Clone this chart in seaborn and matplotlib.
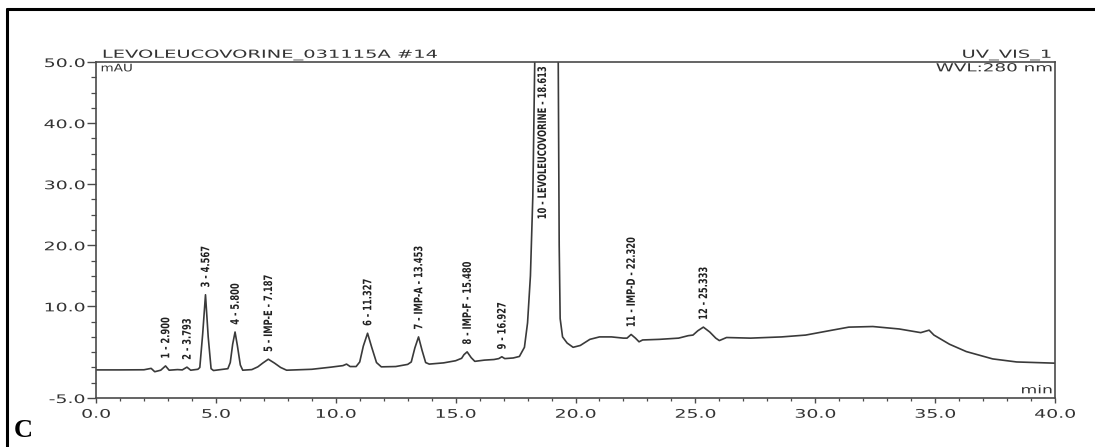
import numpy as np
import pandas as pd
import matplotlib
matplotlib.use("Agg")
import matplotlib.pyplot as plt
import seaborn as sns
from matplotlib.lines import Line2D
from matplotlib.patheffects import AbstractPathEffect
from matplotlib.transforms import Affine2D

# Detector trace (retention time in min, absorbance in mAU)
time_min = [
    0.00, 1.00, 2.00, 2.30, 2.45, 2.70, 2.900, 3.05, 3.40, 3.60, 3.793, 3.95,
    4.25, 4.33, 4.45, 4.567, 4.68, 4.80, 4.90, 5.20, 5.50, 5.60, 5.70, 5.800,
    5.90, 6.02, 6.12, 6.50, 6.75, 6.95, 7.187, 7.45, 7.70, 7.95, 9.00, 9.80,
    10.30, 10.45, 10.60, 10.85, 11.00, 11.15, 11.327, 11.50, 11.70, 11.90,
    12.50, 13.00, 13.15, 13.30, 13.453, 13.60, 13.75, 13.90, 14.50, 15.00,
    15.25, 15.35, 15.480, 15.65, 15.80, 16.20, 16.60, 16.80, 16.927, 17.05,
    17.40, 17.66, 17.87, 18.00, 18.12, 18.22, 18.30, 18.40, 18.613, 19.10,
    19.28, 19.32, 19.36, 19.46, 19.65, 19.90, 20.20, 20.60, 21.00, 21.50,
    22.00, 22.15, 22.320, 22.50, 22.65, 22.80, 23.50, 24.30, 24.70, 24.90,
    25.10, 25.333, 25.60, 25.85, 26.00, 26.30, 27.30, 28.60, 29.60, 30.70,
    31.40, 32.40, 33.50, 34.40, 34.75, 34.95, 35.60, 36.30, 37.40, 38.40,
    40.00,
]
signal_mau = [
    -0.40, -0.40, -0.38, -0.15, -0.70, -0.45, 0.25, -0.45, -0.35, -0.40, 0.05, -0.45,
    -0.30, 0.00, 5.50, 11.90, 5.00, -0.20, -0.50, -0.35, -0.20, 0.80, 3.80, 5.80,
    3.50, 0.40, -0.45, -0.35, 0.10, 0.70, 1.35, 0.70, 0.00, -0.45, -0.30, 0.05,
    0.30, 0.55, 0.15, 0.15, 0.90, 3.50, 5.60, 3.30, 0.80, 0.10,
    0.15, 0.50, 0.90, 3.20, 5.00, 2.80, 0.80, 0.55, 0.75, 1.10,
    1.50, 2.10, 2.55, 1.60, 1.00, 1.20, 1.30, 1.45, 1.75, 1.45,
    1.55, 1.80, 3.30, 7.30, 15.00, 28.00, 50.00, 120.00, 180.00, 120.00,
    50.00, 20.00, 8.00, 5.00, 4.00, 3.30, 3.60, 4.60, 5.00, 5.00,
    4.80, 4.80, 5.40, 4.80, 4.20, 4.50, 4.60, 4.80, 5.20, 5.30,
    6.00, 6.60, 5.80, 4.80, 4.40, 4.90, 4.80, 5.00, 5.30, 6.10,
    6.60, 6.70, 6.30, 5.70, 6.10, 5.30, 3.80, 2.60, 1.40, 0.90,
    0.70,
]

# Integrated peaks
peak_numbers = [1, 2, 3, 4, 5, 6, 7, 8, 9, 10, 11, 12]
peak_names = ["", "", "", "", "IMP-E", "", "IMP-A", "IMP-F", "", "LEVOLEUCOVORINE", "IMP-D", ""]
peak_times = [2.900, 3.793, 4.567, 5.800, 7.187, 11.327, 13.453, 15.480, 16.927, 18.613, 22.320, 25.333]

x_major_ticks = [0, 5, 10, 15, 20, 25, 30, 35, 40]
y_major_ticks = [-5, 10, 20, 30, 40, 50]

sample_title = "LEVOLEUCOVORINE_031115A #14"
channel_name = "UV_VIS_1"
wavelength_text = "WVL:280 nm"


class WideGlyphs(AbstractPathEffect):
    """Draw text glyphs widened along the screen x axis around one edge."""

    def __init__(self, sx, anchor="left"):
        super().__init__()
        self.sx = sx
        self.anchor = anchor

    def draw_path(self, renderer, gc, tpath, affine, rgbFace=None):
        ext = tpath.get_extents(affine)
        if self.anchor == "left":
            x0 = ext.x0
        elif self.anchor == "right":
            x0 = ext.x1
        else:
            x0 = 0.5 * (ext.x0 + ext.x1)
        widen = Affine2D().translate(-x0, 0).scale(self.sx, 1.0).translate(x0, 0)
        renderer.draw_path(gc, tpath, affine + widen, rgbFace)


sns.set_style("ticks")
plt.rcParams["font.family"] = ["DejaVu Sans"]

W, H = 1095, 447
fig = plt.figure(figsize=(W / 100, H / 100), dpi=100)
fig.patch.set_facecolor("white")

ax = fig.add_axes([96 / W, 1 - 398 / H, (1055 - 96) / W, (398 - 62) / H])

trace = pd.DataFrame({"time": time_min, "signal": signal_mau})
sns.lineplot(data=trace, x="time", y="signal", ax=ax, estimator=None, sort=False,
             color="#3a3a3a", linewidth=1.2)

ax.set_xlim(0, 40)
ax.set_ylim(-5, 50)
ax.set_xlabel("")
ax.set_ylabel("")

axis_color = "#4a4a4a"
text_color = "#333333"
for side in ["left", "right", "top", "bottom"]:
    ax.spines[side].set_visible(True)
    ax.spines[side].set_color(axis_color)
    ax.spines[side].set_linewidth(1.2)

ax.set_xticks(x_major_ticks, labels=[f"{v:.1f}" for v in x_major_ticks])
ax.set_yticks(y_major_ticks, labels=[f"{v:.1f}" for v in y_major_ticks])
ax.set_xticks(np.arange(0, 40.01, 1.0), minor=True)
ax.set_yticks(np.arange(-5, 50.01, 2.5), minor=True)

ax.tick_params(axis="y", which="major", direction="out", length=6.5, width=1.0,
               pad=1.5, labelsize=8.5, colors=axis_color, labelcolor=text_color)
ax.tick_params(axis="y", which="minor", direction="out", length=3.5, width=0.9,
               colors=axis_color)
ax.tick_params(axis="x", which="major", direction="out", length=3.5, width=1.0,
               pad=3.5, labelsize=8.5, colors=axis_color, labelcolor=text_color)
ax.tick_params(axis="x", which="minor", direction="out", length=2.0, width=0.9,
               colors=axis_color)
ax.tick_params(right=False, top=False, which="both")

for lab in ax.get_yticklabels():
    lab.set_path_effects([WideGlyphs(1.6, "right")])
for lab in ax.get_xticklabels():
    lab.set_path_effects([WideGlyphs(1.6, "center")])

# Header texts around the plot frame
ax.text(0.007, 1.004, sample_title, transform=ax.transAxes, ha="left", va="bottom",
        fontsize=8, color=text_color, path_effects=[WideGlyphs(1.75, "left")])
ax.text(0.005, 0.996, "mAU", transform=ax.transAxes, ha="left", va="top",
        fontsize=7.5, color=text_color, path_effects=[WideGlyphs(1.3, "left")])
ax.text(0.9965, 1.004, channel_name, transform=ax.transAxes, ha="right", va="bottom",
        fontsize=8, color=text_color, path_effects=[WideGlyphs(1.75, "right")])
ax.text(0.9975, 0.996, wavelength_text, transform=ax.transAxes, ha="right", va="top",
        fontsize=8, color=text_color, path_effects=[WideGlyphs(1.65, "right")])
ax.text(0.9975, 0.008, "min", transform=ax.transAxes, ha="right", va="bottom",
        fontsize=8, color=text_color, path_effects=[WideGlyphs(1.55, "right")])

# Peak annotations, written upward just above each apex
for num, name, rt in zip(peak_numbers, peak_names, peak_times):
    label = f"{num} - {name} - {rt:.3f}" if name else f"{num} - {rt:.3f}"
    apex = float(np.interp(rt, time_min, signal_mau))
    if apex > 50:
        y, va = 49.3, "top"
    else:
        y, va = apex + 1.2, "bottom"
    ax.text(rt, y, label, rotation=90, ha="center", va=va, fontsize=6,
            fontweight="bold", color="#222222", clip_on=False,
            path_effects=[WideGlyphs(1.4, "center")])

# Panel frame and letter
fig.add_artist(Line2D([7 / W, 7 / W], [1 - 9 / H, -0.01], transform=fig.transFigure,
                      color="black", linewidth=2.2))
fig.add_artist(Line2D([7 / W, 1.01], [1 - 9 / H, 1 - 9 / H], transform=fig.transFigure,
                      color="black", linewidth=2.2))
fig.text(14 / W, 1 - 442 / H, "C", ha="left", va="bottom", fontsize=19,
         fontweight="bold", family=["Liberation Serif", "DejaVu Serif"], color="black")

fig.savefig("out.png", dpi=100, facecolor="white")
